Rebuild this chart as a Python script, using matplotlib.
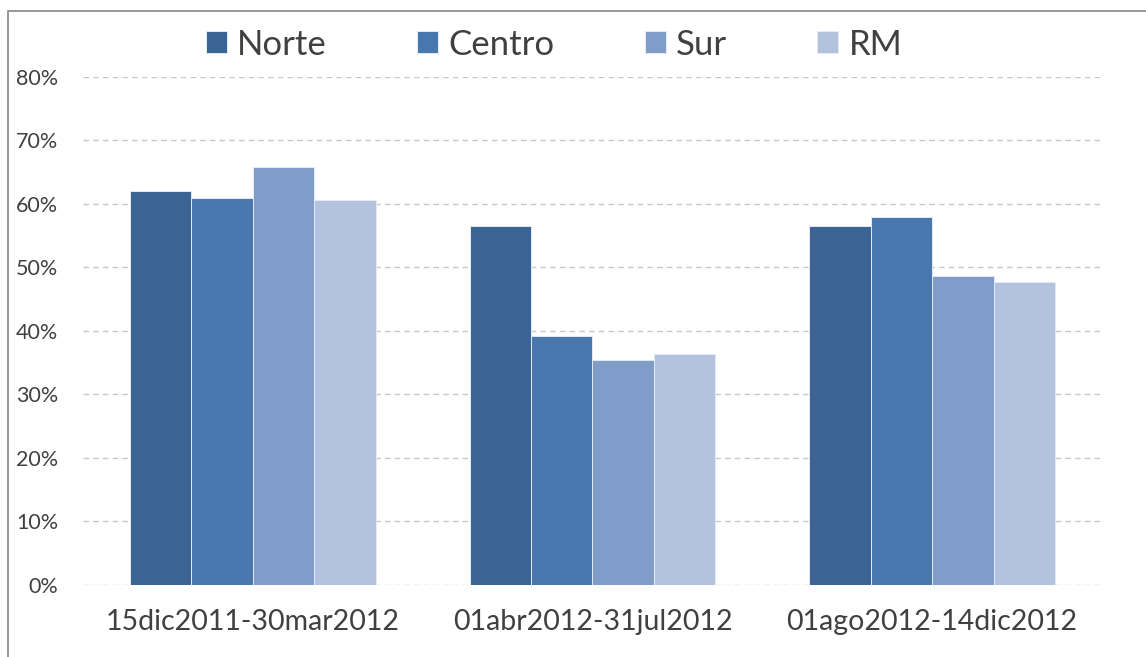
import numpy as np
import matplotlib
matplotlib.use('Agg')
import matplotlib.pyplot as plt
from matplotlib.patches import Rectangle
from matplotlib.ticker import PercentFormatter

plt.rcParams.update({
    "font.family": ["Lato", "DejaVu Sans"],
    "text.color": "#404040",
})

periods = ['15dic2011-30mar2012', '01abr2012-31jul2012', '01ago2012-14dic2012']
zones = ['Norte', 'Centro', 'Sur', 'RM']
norte = [0.620, 0.565, 0.565]
centro = [0.610, 0.392, 0.580]
sur = [0.658, 0.355, 0.487]
rm = [0.606, 0.364, 0.477]
colors = ['#3B6494', '#4877AE', '#7F9DC8', '#B4C3DD']

fig = plt.figure(figsize=(11.46, 6.57), dpi=100)
ax = fig.add_axes([0.0724, 0.1096, 0.8892, 0.7732])

x = np.arange(len(periods))
w = 0.181
for i, (vals, col, name) in enumerate(zip([norte, centro, sur, rm], colors, zones)):
    ax.bar(x + (i - 1.5) * w, vals, w, color=col, label=name,
           edgecolor='#E4EAF3', linewidth=0.7, zorder=3)

ax.set_xlim(-0.5, 2.5)
ax.set_ylim(0, 0.8)
ax.set_yticks(np.arange(0, 0.81, 0.1))
ax.yaxis.set_major_formatter(PercentFormatter(1.0, decimals=0))
ax.set_xticks(x)
ax.set_xticklabels(periods)
ax.tick_params(axis='y', length=0, pad=18, labelsize=15.5, labelcolor='#404040')
ax.tick_params(axis='x', length=0, pad=17, labelsize=20.5, labelcolor='#404040')
ax.grid(axis='y', color='#C8C8C8', linestyle=(0, (4, 3)), linewidth=1, zorder=0)
for s in ax.spines.values():
    s.set_visible(False)

ax.legend(loc='center', bbox_to_anchor=(0.4835, 0.932), bbox_transform=fig.transFigure,
          ncol=4, frameon=False, fontsize=25, handlelength=0.6, handleheight=0.6,
          handletextpad=0.3, columnspacing=2.6, borderpad=0)

fig.patches.append(Rectangle((8 / 1146, -0.1), 1.2, 1 - 11 / 657 + 0.1,
                             transform=fig.transFigure, fill=False,
                             edgecolor='#868686', linewidth=1.2))

fig.savefig('out.png', dpi=100)
